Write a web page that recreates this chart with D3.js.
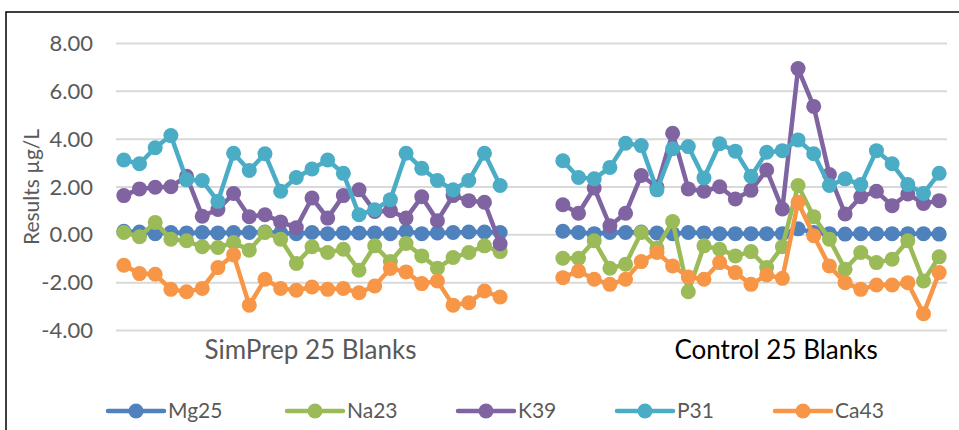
<!DOCTYPE html>
<html>
<head>
<meta charset="utf-8">
<script src="https://cdn.jsdelivr.net/npm/d3@7"></script>
<style>
  body { margin: 0; background: #fff; }
  svg { display: block; font-family: Lato, "Open Sans", sans-serif; }
  .grid line { stroke: #d9d9d9; stroke-width: 2; }
  .tick text, .legend text, .ytitle { fill: #595959; }
</style>
</head>
<body>
<div id="chart"></div>
<script>
// two groups of 25 blanks, 3 empty slots between them
const groups = ['SimPrep 25 Blanks', 'Control 25 Blanks']
const gapSlots = 3
const seriesNames = ['Mg25', 'Na23', 'K39', 'P31', 'Ca43']
const colours = ['#4f81bd', '#9bbb59', '#8064a2', '#4bacc6', '#f79646']
const yTicks = [-4, -2, 0, 2, 4, 6, 8]

const mg25Sim = [0.15, 0.12, 0.05, 0.1, 0.08, 0.1, 0.08, 0.1, 0.1, 0.12, 0.08, 0.05, 0.1, 0.05, 0.08, 0.08, 0.08, 0.05, 0.15, 0.05, 0.08, 0.1, 0.12, 0.12, 0.1]
const na23Sim = [0.1, -0.08, 0.52, -0.18, -0.25, -0.5, -0.53, -0.32, -0.64, 0.1, -0.18, -1.2, -0.5, -0.74, -0.6, -1.48, -0.46, -1.12, -0.36, -0.88, -1.4, -0.95, -0.74, -0.46, -0.7]
const k39Sim = [1.64, 1.92, 1.99, 2.01, 2.45, 0.78, 1.06, 1.73, 0.76, 0.84, 0.54, 0.3, 1.54, 0.7, 1.64, 1.88, 0.98, 1.01, 0.7, 1.59, 0.59, 1.64, 1.43, 1.36, -0.37]
const p31Sim = [3.13, 2.97, 3.64, 4.15, 2.3, 2.27, 1.4, 3.41, 2.69, 3.39, 1.82, 2.4, 2.75, 3.13, 2.57, 0.84, 1.05, 1.47, 3.41, 2.78, 2.27, 1.88, 2.27, 3.41, 2.06]
const ca43Sim = [-1.27, -1.62, -1.65, -2.28, -2.38, -2.24, -1.37, -0.84, -2.94, -1.86, -2.24, -2.32, -2.18, -2.28, -2.24, -2.42, -2.14, -1.41, -1.55, -2.04, -1.93, -2.94, -2.84, -2.35, -2.6]

const mg25Ctl = [0.15, 0.1, 0.05, 0.1, 0.1, 0.12, 0.08, 0.05, 0.1, 0.08, 0.05, 0.05, 0.05, 0.05, 0.05, 0.25, 0.1, 0.05, 0.03, 0.05, 0.05, 0.05, 0.05, 0.05, 0.03]
const na23Ctl = [-0.98, -0.98, -0.25, -1.4, -1.23, 0.1, -0.56, 0.56, -2.38, -0.46, -0.6, -0.88, -0.7, -1.37, -0.5, 2.06, 0.76, -0.18, -1.44, -0.74, -1.16, -1.02, -0.25, -1.93, -0.92]
const k39Ctl = [1.26, 0.9, 1.96, 0.38, 0.9, 2.48, 2.0, 4.25, 1.92, 1.82, 2.01, 1.5, 1.86, 2.71, 1.08, 6.95, 5.37, 2.52, 0.87, 1.59, 1.82, 1.22, 1.71, 1.31, 1.43]
const p31Ctl = [3.1, 2.4, 2.34, 2.82, 3.83, 3.73, 1.88, 3.6, 3.69, 2.38, 3.81, 3.5, 2.45, 3.45, 3.52, 3.97, 3.39, 2.06, 2.34, 2.1, 3.52, 2.97, 2.1, 1.73, 2.57]
const ca43Ctl = [-1.79, -1.51, -1.86, -2.07, -1.86, -1.12, -0.74, -1.3, -1.76, -1.86, -1.16, -1.58, -2.07, -1.68, -1.82, 1.36, -0.04, -1.3, -2.0, -2.28, -2.1, -2.1, -2.0, -3.3, -1.58]

const config = {
  width: 959, height: 430,
  plot: { left: 116, right: 947, top: 43.5, bottom: 330.5 },
  marker: 7.5, line: 4.5
}

const simSets = [mg25Sim, na23Sim, k39Sim, p31Sim, ca43Sim]
const ctlSets = [mg25Ctl, na23Ctl, k39Ctl, p31Ctl, ca43Ctl]
const perGroup = mg25Sim.length
const slots = perGroup * 2 + gapSlots

// one entry per series, one segment per group
const series = seriesNames.map((name, s) => ({
  name,
  colour: colours[s],
  segments: [simSets[s], ctlSets[s]].map((vals, g) =>
    vals.map((v, i) => ({ slot: g * (perGroup + gapSlots) + i, value: v })))
}))

const x = d3.scaleLinear()
  .domain([-0.5, slots - 0.5])
  .range([config.plot.left, config.plot.right])

const y = d3.scaleLinear()
  .domain([-4, 8])
  .range([config.plot.bottom, config.plot.top])

const svg = d3.select('#chart').append('svg')
  .attr('width', config.width)
  .attr('height', config.height)

// chart frame
svg.append('rect')
  .attr('x', 6).attr('y', 12)
  .attr('width', 1000).attr('height', 500)
  .attr('fill', 'none').attr('stroke', '#000').attr('stroke-width', 1.5)

svg.append('g').attr('class', 'grid')
  .selectAll('line')
  .data(yTicks)
  .join('line')
    .attr('x1', config.plot.left).attr('x2', config.plot.right)
    .attr('y1', d => y(d)).attr('y2', d => y(d))

// excel style labels: plain hyphen for negatives
svg.append('g')
  .attr('transform', `translate(${config.plot.left - 23}, 0)`)
  .call(d3.axisLeft(y).tickValues(yTicks).tickFormat(d => d.toFixed(2)).tickSize(0).tickPadding(0))
  .call(g => g.select('.domain').remove())
  .call(g => g.selectAll('text').attr('font-size', 22).attr('font-family', 'Lato'))

svg.append('text')
  .attr('class', 'ytitle')
  .attr('transform', `translate(39, ${(config.plot.top + config.plot.bottom) / 2}) rotate(-90)`)
  .attr('text-anchor', 'middle')
  .attr('font-size', 21)
  .text('Results µg/L')

// group labels under the plot
const labelSlots = [11.9, 41.6]
svg.append('g')
  .selectAll('text')
  .data(groups)
  .join('text')
    .attr('x', (d, i) => x(labelSlots[i]))
    .attr('y', 359)
    .attr('text-anchor', 'middle')
    .attr('font-size', 26)
    .attr('fill', (d, i) => i === 0 ? '#595959' : '#000')
    .text(d => d)

const line = d3.line().x(d => x(d.slot)).y(d => y(d.value))

const lines = svg.append('g')
  .selectAll('g')
  .data(series)
  .join('g')
    .attr('fill', d => d.colour)
    .attr('stroke', d => d.colour)

lines.selectAll('path')
  .data(d => d.segments)
  .join('path')
    .attr('fill', 'none')
    .attr('stroke-width', config.line)
    .attr('stroke-linejoin', 'round')
    .attr('d', line)

lines.selectAll('circle')
  .data(d => d.segments.flat())
  .join('circle')
    .attr('stroke', 'none')
    .attr('cx', d => x(d.slot))
    .attr('cy', d => y(d.value))
    .attr('r', config.marker)

// legend
const legendX = [108, 287, 458, 617, 775]
const legend = svg.append('g').attr('class', 'legend')
  .selectAll('g')
  .data(series)
  .join('g')
    .attr('transform', (d, i) => `translate(${legendX[i]}, 411)`)
legend.append('line')
  .attr('x2', 56)
  .attr('stroke', d => d.colour)
  .attr('stroke-width', config.line)
  .attr('stroke-linecap', 'round')
legend.append('circle')
  .attr('cx', 28).attr('r', config.marker)
  .attr('fill', d => d.colour)
legend.append('text')
  .attr('x', 60).attr('dy', '0.35em')
  .attr('font-size', 21)
  .text(d => d.name)
</script>
</body>
</html>
